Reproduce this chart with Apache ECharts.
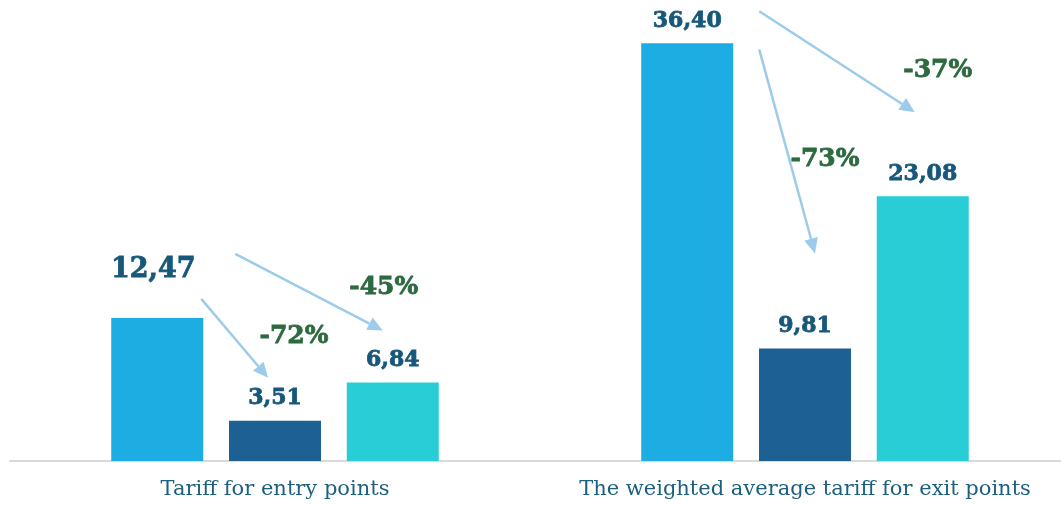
<!DOCTYPE html>
<html><head><meta charset="utf-8">
<script src="https://cdn.jsdelivr.net/npm/echarts@6/dist/echarts.min.js"></script>
<style>html,body{margin:0;padding:0;background:#fff}#c{width:1061px;height:505px}</style>
</head><body><div id="c"></div>
<script>
const categories = ['Tariff for entry points', 'The weighted average tariff for exit points'];
const seriesA = [12.47, 36.40];
const seriesB = [3.51, 9.81];
const seriesC = [6.84, 23.08];
const colors = ['#1eade3', '#1d6194', '#28cdd6'];

const chart = echarts.init(document.getElementById('c'));
const fmt = v => v.toFixed(2).replace('.', ',');
const labelBase = {show: true, position: 'top', fontFamily: 'DejaVu Serif', fontWeight: 'bold', fontSize: 22, color: '#17587a', textBorderColor: '#17587a', textBorderWidth: 0.8, formatter: p => fmt(p.value)};

function mk(name, data, color, idx) {
  return {
    name, type: 'bar', data: data.map((v, i) => {
      const o = {value: v};
      if (idx === 0 && i === 0) o.label = {fontSize: 27, distance: 34, offset: [-4, 0]};
      return o;
    }),
    barWidth: 92, barGap: '28%',
    itemStyle: {color},
    label: Object.assign({}, labelBase, {distance: 11}),
    animation: false
  };
}

chart.setOption({
  animation: false,
  grid: {left: 10, top: 2, bottom: 44, right: -9, containLabel: false, outerBoundsMode: 'none'},
  xAxis: {type: 'category', data: categories,
    axisLine: {lineStyle: {color: '#d9d9d9', width: 2}}, axisTick: {show: false},
    axisLabel: {interval: 0, hideOverlap: false, fontFamily: 'DejaVu Serif', fontSize: 21, color: '#1d5f7e', margin: 18}},
  yAxis: {type: 'value', min: 0, max: 40, show: false, splitLine: {show: false}},
  series: [mk('A', seriesA, colors[0], 0), mk('B', seriesB, colors[1], 1), mk('C', seriesC, colors[2], 2)]
});

const all = [seriesA, seriesB, seriesC];
const barTop = (s, c) => {
  const l = chart.getModel().getSeriesByIndex(s).getData().getItemLayout(c);
  return [l.x + l.width / 2, Math.min(l.y, l.y + l.height)];
};
const graphics = [];
function arrow(p0, p1) {
  const dx = p1[0] - p0[0], dy = p1[1] - p0[1];
  const L = Math.hypot(dx, dy), ux = dx / L, uy = dy / L;
  const hl = 15, hw = 7;
  const bx = p1[0] - ux * hl, by = p1[1] - uy * hl;
  graphics.push({type: 'line', shape: {x1: p0[0], y1: p0[1], x2: bx, y2: by}, style: {stroke: '#9dcbec', lineWidth: 2.5}, z: 10});
  graphics.push({type: 'polygon', shape: {points: [[p1[0], p1[1]], [bx - uy * hw, by + ux * hw], [bx + uy * hw, by - ux * hw]]}, style: {fill: '#9dcbec'}, z: 10});
}
function pct(pos, s, c) {
  const v = Math.round((all[s][c] / all[0][c] - 1) * 100);
  graphics.push({type: 'text', x: pos[0], y: pos[1], style: {text: v + '%', fontFamily: 'DejaVu Serif', fontWeight: 'bold', fontSize: 25, fill: '#2e6a40', stroke: '#2e6a40', lineWidth: 0.8, align: 'center', verticalAlign: 'middle'}, z: 11});
}
const off = (p, dx, dy) => [p[0] + dx, p[1] + dy];
// Category 0
arrow(off(barTop(0, 0), 44, -19), off(barTop(1, 0), -7, -43));
arrow(off(barTop(0, 0), 78, -64), off(barTop(2, 0), -10, -52));
pct(off(barTop(1, 0), 19, -84), 1, 0);
pct(off(barTop(2, 0), -9, -95), 2, 0);
// Category 1
arrow(off(barTop(0, 1), 72, 6), off(barTop(1, 1), 10, -95));
arrow(off(barTop(0, 1), 72, -32), off(barTop(2, 1), -8, -84));
pct(off(barTop(1, 1), 20, -189), 1, 1);
pct(off(barTop(2, 1), 15, -126), 2, 1);
chart.setOption({graphic: graphics});
</script></body></html>
